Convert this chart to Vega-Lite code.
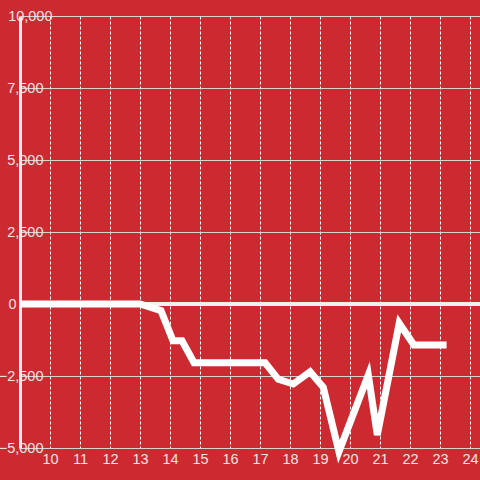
{
  "$schema": "https://vega.github.io/schema/vega-lite/v6.json",
  "width": 460,
  "height": 432,
  "autosize": {"type": "none"},
  "padding": {"left": 20, "top": 16, "right": 0, "bottom": 32},
  "background": "#cc2a30",
  "config": {
    "view": {"stroke": null}
  },
  "data": {
    "values": [
      {"x": 9, "y": 0},
      {"x": 13, "y": 0},
      {"x": 13.7, "y": -230},
      {"x": 14.1, "y": -1275},
      {"x": 14.4, "y": -1275},
      {"x": 14.8, "y": -2040},
      {"x": 17.17, "y": -2040},
      {"x": 17.61, "y": -2615},
      {"x": 18.11, "y": -2778},
      {"x": 18.67, "y": -2350},
      {"x": 19.11, "y": -2893},
      {"x": 19.63, "y": -5128},
      {"x": 20.61, "y": -2465},
      {"x": 20.91, "y": -4549},
      {"x": 21.64, "y": -670},
      {"x": 22.13, "y": -1424},
      {"x": 23.22, "y": -1424}
    ]
  },
  "layer": [
    {
      "mark": {"type": "rule", "color": "#f4f0f0", "strokeWidth": 3},
      "encoding": {"y": {"datum": 0, "type": "quantitative"}}
    },
    {
      "mark": {"type": "line", "color": "#ffffff", "strokeWidth": 7, "strokeJoin": "miter", "strokeCap": "butt", "clip": false},
      "encoding": {
        "x": {
          "field": "x", "type": "quantitative",
          "scale": {"domain": [9, 24.333], "nice": false, "zero": false},
          "axis": {
            "title": null,
            "values": [10, 11, 12, 13, 14, 15, 16, 17, 18, 19, 20, 21, 22, 23, 24],
            "domain": false, "ticks": false, "tickSize": 0, "labelPadding": 4,
            "labelFont": "Liberation Sans", "labelFontSize": 14.5, "labelColor": "#f3e3e3",
            "grid": true, "gridColor": "#ffffff", "gridDash": [3, 2], "gridWidth": 1,
            "labelFlush": false
          }
        },
        "y": {
          "field": "y", "type": "quantitative",
          "scale": {"domain": [-5000, 10000], "nice": false, "zero": false},
          "axis": {
            "title": null,
            "values": [-5000, -3750, -2500, -1250, 0, 1250, 2500, 3750, 5000, 6250, 7500, 8750, 10000],
            "labelExpr": "datum.value % 2500 == 0 ? format(datum.value, ',') : ''",
            "domain": true, "domainColor": "#f4f0f0", "domainWidth": 3,
            "ticks": false, "tickSize": 0,
            "labelFont": "Liberation Sans", "labelFontSize": 14.5, "labelColor": "#f3e3e3",
            "labelAlign": "right", "labelBaseline": "middle",
            "labelPadding": {"condition": [{"test": "datum.value == 10000", "value": -32}, {"test": "datum.value == 0", "value": 4}], "value": -23},
            "labelFlush": false, "labelOverlap": false,
            "grid": true, "gridColor": "#d4d4d4", "gridWidth": 1
          }
        }
      }
    }
  ]
}
